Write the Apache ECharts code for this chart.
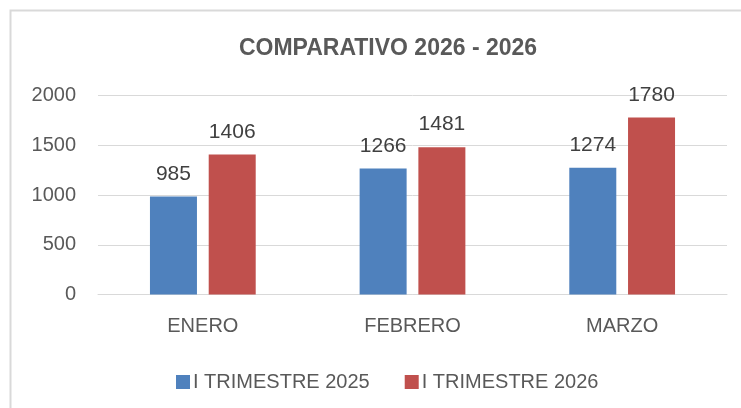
<!DOCTYPE html>
<html>
<head>
<meta charset="utf-8">
<script src="https://cdn.jsdelivr.net/npm/echarts@6/dist/echarts.min.js"></script>
<style>
  html, body { margin: 0; padding: 0; background: #fff; }
  #chart { width: 741px; height: 408px; }
</style>
</head>
<body>
<div id="chart"></div>
<script>
// datos del grafico
var meses = ['ENERO', 'FEBRERO', 'MARZO']
var trimestre2025 = [985, 1266, 1274]
var trimestre2026 = [1406, 1481, 1780]
var nombres = ['I TRIMESTRE 2025', 'I TRIMESTRE 2026']

var fuente = 'Liberation Sans'
var gris = '#595959'

var chart = echarts.init(document.getElementById('chart'))
var option = {
  animation: false,
  title: {
    text: 'COMPARATIVO 2026 - 2026',
    left: 383, top: 32, textAlign: 'center',
    textStyle: { fontFamily: fuente, fontSize: 23, fontWeight: 'bold', color: gris }
  },
  legend: {
    data: nombres,
    left: 171, top: 367,
    itemWidth: 14, itemHeight: 14, itemGap: 35,
    icon: 'rect',
    textStyle: { fontFamily: fuente, fontSize: 20, color: gris, padding: [0, 0, 0, -2] }
  },
  grid: { left: 98, right: 14, top: 95.5, height: 199, containLabel: false },
  xAxis: {
    type: 'category', data: meses,
    axisLine: { lineStyle: { color: '#d9d9d9' } },
    axisTick: { show: false },
    axisLabel: { fontFamily: fuente, fontSize: 20, color: gris, margin: 22 }
  },
  yAxis: {
    type: 'value', min: 0, max: 2000, interval: 500,
    axisLine: { show: false }, axisTick: { show: false },
    splitLine: { lineStyle: { color: '#d9d9d9' } },
    axisLabel: { fontFamily: fuente, fontSize: 20, color: gris, margin: 22, formatter: function (v) { return String(v) } }
  },
  series: [
    {
      name: nombres[0], type: 'bar', data: trimestre2025,
      barWidth: 47, barGap: '25%',
      itemStyle: { color: '#4f81bd' },
      label: { show: true, position: 'top', distance: 12, fontFamily: fuente, fontSize: 21, color: '#404040' }
    },
    {
      name: nombres[1], type: 'bar', data: trimestre2026,
      barWidth: 47,
      itemStyle: { color: '#c0504d' },
      label: { show: true, position: 'top', distance: 12, fontFamily: fuente, fontSize: 21, color: '#404040' }
    }
  ],
  graphic: [{
    type: 'rect', silent: true,
    shape: { x: 10.5, y: 10.5, width: 760, height: 420 },
    style: { fill: null, stroke: '#d9d9d9', lineWidth: 2 }
  }]
}
chart.setOption(option)
</script>
</body>
</html>
